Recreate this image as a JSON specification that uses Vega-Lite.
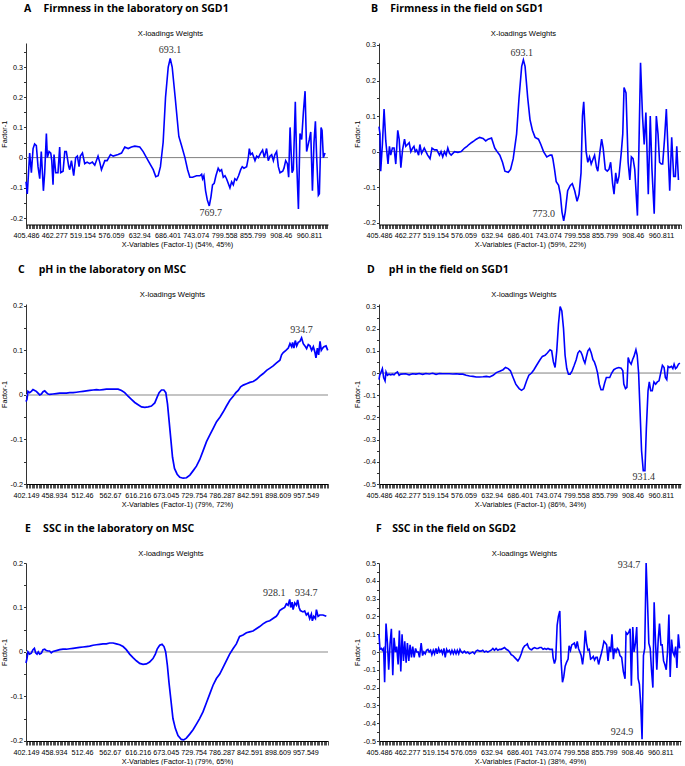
{
"$schema": "https://vega.github.io/schema/vega-lite/v6.json",
"background": "white",
"padding": {"left": 0, "top": 4, "right": 0, "bottom": 0},
"config": {
 "view": {"stroke": null},
 "title": {"anchor": "start", "frame": "group", "font": "Open Sans", "fontSize": 10.5, "fontWeight": "bold", "color": "#000", "offset": 15},
 "axis": {"grid": false, "labelFont": "Liberation Sans", "titleFont": "Liberation Sans", "titleFontWeight": "normal", "labelColor": "#000", "titleColor": "#000"},
 "axisBottom": {"tickSize": 4, "tickWidth": 0.7, "tickColor": "#000", "domainColor": "#000", "labelFontSize": 7.2, "labelPadding": 3, "labelFlush": false, "labelOverlap": false, "labelBound": false, "titleFontSize": 7.3, "titlePadding": 2},
 "axisTop": {"labels": false, "ticks": false, "domain": false, "titleFontSize": 7.6, "titlePadding": 5.2, "minExtent": 0, "maxExtent": 0},
 "axisLeft": {"tickSize": 2.5, "tickColor": "#333", "domainColor": "#333", "labelFontSize": 7.2, "labelPadding": 1, "minExtent": 15, "maxExtent": 15, "titlePadding": 3, "titleFontSize": 7.2, "labelOverlap": false, "labelExpr": "abs(round(datum.value*20)) % 2 == 0 ? '' + datum.value : ''"}
},
"datasets": {
"A": [{"i":0,"v":-0.08},{"i":0.9,"v":-0.12},{"i":2.6,"v":0.015},{"i":3.8,"v":-0.05},{"i":5.0,"v":0.03},{"i":6.1,"v":0.045},{"i":7.3,"v":0.04},{"i":8.5,"v":-0.03},{"i":9.7,"v":-0.07},{"i":10.8,"v":0.02},{"i":12.3,"v":-0.11},{"i":13.2,"v":-0.05},{"i":14.4,"v":0.08},{"i":15.1,"v":0.0},{"i":16.3,"v":0.02},{"i":17.5,"v":0.015},{"i":18.2,"v":-0.01},{"i":19.1,"v":-0.09},{"i":19.8,"v":0.01},{"i":21.0,"v":-0.05},{"i":22.6,"v":-0.05},{"i":23.8,"v":0.035},{"i":24.5,"v":-0.05},{"i":26.2,"v":-0.045},{"i":27.4,"v":0.02},{"i":28.5,"v":0.02},{"i":30.2,"v":-0.03},{"i":30.9,"v":-0.04},{"i":32.1,"v":-0.01},{"i":33.7,"v":-0.06},{"i":35.1,"v":0.0},{"i":36.3,"v":0.005},{"i":37.5,"v":-0.03},{"i":38.4,"v":0.005},{"i":39.9,"v":0.015},{"i":41.5,"v":-0.02},{"i":43.2,"v":-0.015},{"i":45.0,"v":-0.02},{"i":46.9,"v":-0.015},{"i":48.6,"v":-0.025},{"i":50.9,"v":0.005},{"i":52.1,"v":-0.015},{"i":53.3,"v":-0.04},{"i":55.7,"v":-0.01},{"i":57.3,"v":-0.01},{"i":59.7,"v":0.01},{"i":61.6,"v":0.005},{"i":65.1,"v":0.01},{"i":67.5,"v":0.015},{"i":69.8,"v":0.035},{"i":72.2,"v":0.03},{"i":74.5,"v":0.035},{"i":76.9,"v":0.038},{"i":80.4,"v":0.035},{"i":82.8,"v":0.02},{"i":86.3,"v":-0.01},{"i":89.9,"v":-0.04},{"i":91.7,"v":-0.063},{"i":93.4,"v":-0.06},{"i":95.0,"v":-0.03},{"i":96.9,"v":0.05},{"i":98.6,"v":0.2},{"i":100.5,"v":0.3},{"i":101.9,"v":0.328},{"i":103.3,"v":0.3},{"i":105.4,"v":0.2},{"i":108.0,"v":0.07},{"i":109.9,"v":0.04},{"i":112.3,"v":0.0},{"i":114.2,"v":-0.04},{"i":115.8,"v":-0.065},{"i":117.7,"v":-0.065},{"i":120.5,"v":-0.06},{"i":122.9,"v":-0.06},{"i":124.1,"v":-0.055},{"i":124.8,"v":-0.07},{"i":125.7,"v":-0.06},{"i":126.9,"v":-0.11},{"i":128.1,"v":-0.14},{"i":129.5,"v":-0.16},{"i":130.7,"v":-0.13},{"i":131.8,"v":-0.09},{"i":133.0,"v":-0.085},{"i":134.2,"v":-0.06},{"i":135.8,"v":-0.035},{"i":137.0,"v":-0.045},{"i":138.2,"v":-0.04},{"i":139.4,"v":-0.065},{"i":140.6,"v":-0.06},{"i":141.7,"v":-0.07},{"i":144.1,"v":-0.1},{"i":145.3,"v":-0.08},{"i":146.5,"v":-0.09},{"i":147.6,"v":-0.07},{"i":148.8,"v":-0.075},{"i":150.2,"v":-0.06},{"i":151.7,"v":-0.04},{"i":152.8,"v":-0.03},{"i":154.0,"v":-0.035},{"i":155.9,"v":-0.03},{"i":157.1,"v":0.0},{"i":157.8,"v":0.03},{"i":158.7,"v":0.01},{"i":159.9,"v":0.015},{"i":161.8,"v":-0.01},{"i":163.0,"v":0.005},{"i":164.2,"v":0.0},{"i":165.8,"v":0.015},{"i":167.2,"v":0.025},{"i":168.4,"v":0.0},{"i":170.0,"v":0.03},{"i":171.2,"v":-0.01},{"i":172.4,"v":0.005},{"i":173.6,"v":0.01},{"i":174.8,"v":-0.01},{"i":175.9,"v":0.01},{"i":177.1,"v":0.02},{"i":178.3,"v":-0.03},{"i":179.5,"v":-0.05},{"i":181.4,"v":-0.045},{"i":182.3,"v":-0.035},{"i":183.5,"v":-0.01},{"i":184.7,"v":-0.02},{"i":185.6,"v":-0.065},{"i":186.6,"v":0.1},{"i":188.0,"v":-0.05},{"i":188.9,"v":-0.04},{"i":190.3,"v":0.185},{"i":191.3,"v":-0.02},{"i":192.5,"v":-0.17},{"i":193.6,"v":0.08},{"i":194.8,"v":0.06},{"i":196.0,"v":0.15},{"i":197.2,"v":0.22},{"i":198.3,"v":0.02},{"i":200.2,"v":0.06},{"i":201.2,"v":0.085},{"i":202.4,"v":-0.11},{"i":203.5,"v":0.05},{"i":204.5,"v":0.12},{"i":205.4,"v":0.0},{"i":206.6,"v":-0.125},{"i":207.3,"v":-0.12},{"i":208.5,"v":0.1},{"i":209.2,"v":0.09},{"i":210.1,"v":0.0},{"i":211.3,"v":0.015}],
"B": [{"i":0,"v":0.07},{"i":0.7,"v":0.05},{"i":1.2,"v":-0.055},{"i":2.4,"v":0.02},{"i":3.6,"v":0.12},{"i":4.8,"v":0.03},{"i":6.4,"v":-0.035},{"i":7.4,"v":0.015},{"i":8.3,"v":-0.01},{"i":9.5,"v":0.01},{"i":10.7,"v":0.01},{"i":11.9,"v":-0.035},{"i":13.3,"v":0.06},{"i":14.3,"v":0.035},{"i":15.5,"v":-0.045},{"i":16.7,"v":0.005},{"i":18.1,"v":0.035},{"i":19.0,"v":0.015},{"i":20.2,"v":0.02},{"i":21.4,"v":0.025},{"i":22.6,"v":0.0},{"i":23.8,"v":0.01},{"i":24.8,"v":0.015},{"i":25.7,"v":0.0},{"i":26.7,"v":0.005},{"i":28.1,"v":-0.01},{"i":29.0,"v":0.02},{"i":30.2,"v":-0.005},{"i":32.1,"v":0.01},{"i":33.3,"v":0.0},{"i":34.5,"v":-0.01},{"i":36.2,"v":-0.02},{"i":37.6,"v":0.01},{"i":39.3,"v":0.005},{"i":41.0,"v":0.005},{"i":42.9,"v":-0.01},{"i":44.0,"v":0.0},{"i":45.2,"v":-0.015},{"i":46.4,"v":0.0},{"i":47.6,"v":-0.01},{"i":48.8,"v":0.01},{"i":50.0,"v":-0.005},{"i":51.2,"v":-0.01},{"i":53.6,"v":0.0},{"i":56.0,"v":-0.002},{"i":58.3,"v":0.0},{"i":60.7,"v":0.01},{"i":62.4,"v":0.015},{"i":63.8,"v":0.02},{"i":65.5,"v":0.025},{"i":67.4,"v":0.03},{"i":69.0,"v":0.035},{"i":71.4,"v":0.04},{"i":73.8,"v":0.037},{"i":75.7,"v":0.03},{"i":77.4,"v":0.035},{"i":79.8,"v":0.038},{"i":82.1,"v":0.01},{"i":83.8,"v":0.0},{"i":85.7,"v":-0.01},{"i":87.6,"v":-0.03},{"i":89.3,"v":-0.055},{"i":91.7,"v":-0.058},{"i":93.3,"v":-0.05},{"i":95.2,"v":-0.02},{"i":97.6,"v":0.05},{"i":99.3,"v":0.15},{"i":101.2,"v":0.24},{"i":102.4,"v":0.258},{"i":103.6,"v":0.24},{"i":105.5,"v":0.15},{"i":107.1,"v":0.09},{"i":108.8,"v":0.06},{"i":110.7,"v":0.04},{"i":113.1,"v":0.035},{"i":114.8,"v":0.02},{"i":116.7,"v":0.0},{"i":119.0,"v":-0.015},{"i":121.4,"v":-0.01},{"i":122.6,"v":-0.01},{"i":123.3,"v":-0.02},{"i":124.5,"v":-0.05},{"i":125.7,"v":-0.085},{"i":127.4,"v":-0.095},{"i":128.6,"v":-0.12},{"i":129.8,"v":-0.17},{"i":131.0,"v":-0.195},{"i":132.1,"v":-0.17},{"i":133.8,"v":-0.11},{"i":135.7,"v":-0.095},{"i":137.1,"v":-0.09},{"i":138.8,"v":-0.11},{"i":140.5,"v":-0.14},{"i":141.9,"v":-0.12},{"i":143.3,"v":-0.06},{"i":144.3,"v":0.1},{"i":145.2,"v":0.14},{"i":146.9,"v":0.0},{"i":148.1,"v":-0.03},{"i":149.3,"v":-0.015},{"i":150.5,"v":-0.035},{"i":151.9,"v":-0.02},{"i":152.9,"v":-0.01},{"i":154.3,"v":-0.045},{"i":155.2,"v":-0.055},{"i":156.7,"v":0.0},{"i":157.9,"v":0.035},{"i":159.0,"v":0.01},{"i":160.5,"v":-0.05},{"i":161.9,"v":-0.055},{"i":163.1,"v":-0.05},{"i":164.3,"v":-0.03},{"i":165.7,"v":-0.09},{"i":166.7,"v":-0.12},{"i":167.9,"v":-0.06},{"i":169.0,"v":-0.09},{"i":170.2,"v":-0.07},{"i":171.9,"v":0.0},{"i":172.9,"v":0.05},{"i":173.8,"v":0.18},{"i":175.2,"v":0.165},{"i":176.7,"v":-0.03},{"i":177.9,"v":-0.08},{"i":179.0,"v":-0.015},{"i":180.2,"v":-0.02},{"i":181.4,"v":-0.05},{"i":183.3,"v":-0.18},{"i":184.3,"v":0.0},{"i":185.5,"v":0.25},{"i":186.9,"v":0.1},{"i":188.1,"v":0.02},{"i":189.3,"v":0.11},{"i":191.0,"v":-0.12},{"i":192.4,"v":0.1},{"i":193.6,"v":-0.05},{"i":195.2,"v":-0.175},{"i":196.7,"v":0.1},{"i":197.9,"v":0.05},{"i":199.0,"v":-0.03},{"i":200.2,"v":-0.035},{"i":201.2,"v":-0.035},{"i":202.6,"v":0.04},{"i":203.8,"v":0.12},{"i":206.2,"v":-0.11},{"i":207.6,"v":0.04},{"i":209.0,"v":-0.07},{"i":210.2,"v":-0.07},{"i":211.2,"v":0.015},{"i":212.4,"v":-0.08}],
"C": [{"i":0,"v":-0.015},{"i":0.7,"v":-0.01},{"i":1.4,"v":0.008},{"i":2.6,"v":0.005},{"i":3.8,"v":0.008},{"i":5.0,"v":0.012},{"i":6.2,"v":0.01},{"i":7.4,"v":0.008},{"i":8.6,"v":0.004},{"i":9.8,"v":0.0},{"i":11.0,"v":0.002},{"i":12.2,"v":0.007},{"i":13.4,"v":0.009},{"i":14.6,"v":0.005},{"i":15.8,"v":0.002},{"i":16.9,"v":0.001},{"i":19.3,"v":0.002},{"i":21.7,"v":0.003},{"i":24.1,"v":0.004},{"i":26.5,"v":0.004},{"i":28.9,"v":0.004},{"i":31.3,"v":0.005},{"i":33.7,"v":0.005},{"i":36.0,"v":0.006},{"i":38.4,"v":0.007},{"i":40.8,"v":0.008},{"i":43.2,"v":0.009},{"i":45.6,"v":0.01},{"i":48.0,"v":0.011},{"i":50.4,"v":0.012},{"i":52.7,"v":0.011},{"i":55.1,"v":0.012},{"i":57.5,"v":0.013},{"i":59.9,"v":0.013},{"i":62.3,"v":0.013},{"i":65.9,"v":0.013},{"i":68.3,"v":0.01},{"i":70.6,"v":0.005},{"i":73.0,"v":-0.003},{"i":75.4,"v":-0.01},{"i":77.8,"v":-0.017},{"i":80.2,"v":-0.022},{"i":82.6,"v":-0.027},{"i":85.0,"v":-0.028},{"i":87.4,"v":-0.027},{"i":89.7,"v":-0.025},{"i":92.1,"v":-0.018},{"i":93.8,"v":-0.005},{"i":95.2,"v":0.005},{"i":96.9,"v":0.011},{"i":98.6,"v":0.011},{"i":100.0,"v":0.005},{"i":101.2,"v":-0.02},{"i":102.4,"v":-0.06},{"i":103.6,"v":-0.1},{"i":104.8,"v":-0.14},{"i":106.2,"v":-0.165},{"i":108.1,"v":-0.178},{"i":110.0,"v":-0.185},{"i":112.4,"v":-0.187},{"i":114.8,"v":-0.186},{"i":117.2,"v":-0.18},{"i":119.6,"v":-0.17},{"i":121.9,"v":-0.16},{"i":124.3,"v":-0.145},{"i":126.7,"v":-0.125},{"i":129.1,"v":-0.105},{"i":131.5,"v":-0.09},{"i":133.9,"v":-0.075},{"i":136.3,"v":-0.06},{"i":138.7,"v":-0.05},{"i":141.1,"v":-0.038},{"i":143.4,"v":-0.025},{"i":145.8,"v":-0.012},{"i":148.2,"v":-0.003},{"i":150.1,"v":0.005},{"i":151.8,"v":0.01},{"i":153.5,"v":0.018},{"i":155.4,"v":0.022},{"i":157.8,"v":0.025},{"i":160.1,"v":0.028},{"i":162.5,"v":0.03},{"i":164.9,"v":0.035},{"i":167.3,"v":0.042},{"i":169.7,"v":0.048},{"i":172.1,"v":0.055},{"i":174.5,"v":0.06},{"i":176.8,"v":0.065},{"i":179.2,"v":0.072},{"i":181.6,"v":0.078},{"i":182.8,"v":0.09},{"i":184.0,"v":0.095},{"i":185.9,"v":0.1},{"i":187.6,"v":0.105},{"i":188.8,"v":0.115},{"i":190.0,"v":0.108},{"i":190.7,"v":0.118},{"i":191.6,"v":0.105},{"i":192.6,"v":0.122},{"i":193.6,"v":0.11},{"i":194.7,"v":0.118},{"i":195.9,"v":0.12},{"i":197.1,"v":0.128},{"i":198.3,"v":0.115},{"i":199.5,"v":0.11},{"i":200.7,"v":0.104},{"i":201.9,"v":0.113},{"i":203.1,"v":0.11},{"i":204.3,"v":0.1},{"i":205.5,"v":0.108},{"i":206.7,"v":0.095},{"i":207.4,"v":0.083},{"i":208.4,"v":0.105},{"i":209.3,"v":0.09},{"i":210.3,"v":0.12},{"i":211.2,"v":0.1},{"i":212.2,"v":0.105},{"i":213.1,"v":0.108},{"i":214.6,"v":0.11},{"i":215.8,"v":0.1}],
"D": [{"i":0,"v":-0.03},{"i":0.5,"v":-0.01},{"i":1.2,"v":0.0},{"i":2.4,"v":0.02},{"i":3.3,"v":-0.02},{"i":4.3,"v":-0.035},{"i":5.0,"v":0.005},{"i":6.0,"v":-0.01},{"i":7.1,"v":-0.005},{"i":8.3,"v":-0.008},{"i":9.5,"v":-0.005},{"i":10.7,"v":-0.008},{"i":11.9,"v":0.0},{"i":13.1,"v":0.005},{"i":14.3,"v":-0.01},{"i":15.5,"v":-0.005},{"i":19.0,"v":-0.003},{"i":21.4,"v":-0.008},{"i":23.8,"v":-0.003},{"i":26.2,"v":-0.005},{"i":28.6,"v":-0.002},{"i":31.0,"v":-0.006},{"i":33.3,"v":-0.002},{"i":35.7,"v":-0.004},{"i":38.1,"v":-0.001},{"i":40.5,"v":-0.006},{"i":42.9,"v":-0.002},{"i":45.2,"v":-0.003},{"i":47.6,"v":-0.003},{"i":50.0,"v":-0.003},{"i":52.4,"v":-0.004},{"i":54.8,"v":-0.003},{"i":57.1,"v":-0.005},{"i":59.5,"v":-0.005},{"i":61.9,"v":-0.01},{"i":64.3,"v":-0.013},{"i":66.7,"v":-0.015},{"i":69.0,"v":-0.018},{"i":71.4,"v":-0.018},{"i":73.8,"v":-0.017},{"i":76.2,"v":-0.015},{"i":78.6,"v":-0.018},{"i":81.0,"v":-0.01},{"i":83.3,"v":0.002},{"i":85.7,"v":0.008},{"i":88.1,"v":0.015},{"i":89.8,"v":0.025},{"i":91.7,"v":0.02},{"i":93.3,"v":0.01},{"i":95.2,"v":-0.02},{"i":97.1,"v":-0.05},{"i":99.5,"v":-0.07},{"i":101.2,"v":-0.078},{"i":102.9,"v":-0.07},{"i":104.8,"v":-0.035},{"i":106.4,"v":-0.01},{"i":108.3,"v":0.0},{"i":110.0,"v":0.015},{"i":111.9,"v":0.035},{"i":114.3,"v":0.06},{"i":116.0,"v":0.075},{"i":117.9,"v":0.08},{"i":119.5,"v":0.09},{"i":121.4,"v":0.105},{"i":122.6,"v":0.1},{"i":123.8,"v":0.05},{"i":125.0,"v":0.025},{"i":126.2,"v":0.1},{"i":127.4,"v":0.22},{"i":128.6,"v":0.3},{"i":129.8,"v":0.28},{"i":131.0,"v":0.2},{"i":132.1,"v":0.08},{"i":133.3,"v":0.02},{"i":134.5,"v":-0.005},{"i":135.7,"v":-0.005},{"i":137.1,"v":0.01},{"i":138.6,"v":0.035},{"i":140.0,"v":0.06},{"i":141.2,"v":0.09},{"i":142.4,"v":0.1},{"i":143.3,"v":0.095},{"i":144.3,"v":0.08},{"i":145.2,"v":0.06},{"i":146.2,"v":0.045},{"i":147.1,"v":0.07},{"i":148.3,"v":0.1},{"i":149.5,"v":0.11},{"i":150.7,"v":0.09},{"i":151.9,"v":0.06},{"i":152.9,"v":0.05},{"i":154.0,"v":0.03},{"i":155.2,"v":0.0},{"i":156.4,"v":-0.05},{"i":157.6,"v":-0.075},{"i":159.0,"v":-0.075},{"i":160.2,"v":-0.045},{"i":161.4,"v":-0.02},{"i":162.6,"v":-0.02},{"i":163.8,"v":-0.02},{"i":165.2,"v":0.0},{"i":166.7,"v":0.015},{"i":168.6,"v":0.022},{"i":170.2,"v":0.025},{"i":171.9,"v":0.022},{"i":173.1,"v":0.01},{"i":173.8,"v":-0.05},{"i":175.0,"v":-0.07},{"i":176.0,"v":-0.065},{"i":176.9,"v":0.07},{"i":177.9,"v":0.05},{"i":179.0,"v":0.04},{"i":180.0,"v":0.06},{"i":181.0,"v":0.075},{"i":182.4,"v":0.105},{"i":183.3,"v":0.08},{"i":184.3,"v":0.0},{"i":185.2,"v":-0.15},{"i":186.4,"v":-0.35},{"i":187.6,"v":-0.44},{"i":188.8,"v":-0.44},{"i":189.8,"v":-0.25},{"i":191.0,"v":-0.08},{"i":191.9,"v":-0.04},{"i":192.9,"v":-0.08},{"i":194.0,"v":-0.08},{"i":195.2,"v":-0.04},{"i":196.4,"v":-0.05},{"i":197.6,"v":-0.04},{"i":198.8,"v":-0.035},{"i":200.0,"v":0.0},{"i":201.2,"v":0.035},{"i":202.4,"v":0.025},{"i":203.3,"v":-0.02},{"i":204.3,"v":-0.03},{"i":205.2,"v":0.03},{"i":206.4,"v":0.025},{"i":207.6,"v":0.03},{"i":208.6,"v":0.02},{"i":209.5,"v":0.04},{"i":210.5,"v":0.02},{"i":211.4,"v":0.025},{"i":212.6,"v":0.04},{"i":213.6,"v":0.045}],
"E": [{"i":0,"v":-0.025},{"i":0.7,"v":-0.015},{"i":1.4,"v":0.0},{"i":2.6,"v":-0.005},{"i":3.8,"v":-0.003},{"i":5.0,"v":0.005},{"i":6.0,"v":0.008},{"i":6.9,"v":-0.002},{"i":7.9,"v":-0.005},{"i":8.8,"v":0.0},{"i":9.8,"v":-0.005},{"i":11.0,"v":-0.003},{"i":12.2,"v":0.005},{"i":13.4,"v":0.006},{"i":14.6,"v":0.003},{"i":15.8,"v":0.002},{"i":16.9,"v":0.002},{"i":18.1,"v":-0.002},{"i":19.3,"v":0.001},{"i":21.7,"v":0.003},{"i":24.1,"v":0.005},{"i":26.5,"v":0.006},{"i":28.9,"v":0.006},{"i":31.3,"v":0.007},{"i":33.7,"v":0.008},{"i":36.0,"v":0.009},{"i":38.4,"v":0.01},{"i":40.8,"v":0.011},{"i":43.2,"v":0.012},{"i":45.6,"v":0.013},{"i":48.0,"v":0.015},{"i":50.4,"v":0.016},{"i":52.7,"v":0.017},{"i":55.1,"v":0.018},{"i":57.5,"v":0.018},{"i":59.9,"v":0.02},{"i":62.3,"v":0.02},{"i":64.7,"v":0.018},{"i":67.1,"v":0.016},{"i":69.5,"v":0.012},{"i":71.8,"v":0.005},{"i":74.2,"v":-0.005},{"i":76.6,"v":-0.013},{"i":79.0,"v":-0.02},{"i":81.4,"v":-0.026},{"i":83.8,"v":-0.028},{"i":86.2,"v":-0.027},{"i":88.5,"v":-0.023},{"i":90.9,"v":-0.015},{"i":92.6,"v":-0.005},{"i":94.0,"v":0.007},{"i":95.7,"v":0.015},{"i":97.4,"v":0.017},{"i":98.8,"v":0.012},{"i":100.0,"v":0.0},{"i":101.2,"v":-0.03},{"i":102.4,"v":-0.07},{"i":103.8,"v":-0.11},{"i":105.2,"v":-0.15},{"i":106.9,"v":-0.172},{"i":108.8,"v":-0.188},{"i":111.2,"v":-0.197},{"i":112.9,"v":-0.198},{"i":114.8,"v":-0.194},{"i":117.2,"v":-0.185},{"i":119.6,"v":-0.175},{"i":121.9,"v":-0.163},{"i":124.3,"v":-0.15},{"i":126.7,"v":-0.135},{"i":129.1,"v":-0.115},{"i":131.5,"v":-0.095},{"i":133.9,"v":-0.075},{"i":136.3,"v":-0.06},{"i":138.7,"v":-0.05},{"i":141.1,"v":-0.035},{"i":143.4,"v":-0.02},{"i":145.8,"v":-0.005},{"i":148.2,"v":0.007},{"i":150.6,"v":0.018},{"i":152.9,"v":0.035},{"i":155.4,"v":0.038},{"i":157.8,"v":0.043},{"i":160.1,"v":0.045},{"i":162.5,"v":0.047},{"i":164.9,"v":0.052},{"i":167.3,"v":0.057},{"i":169.7,"v":0.063},{"i":172.1,"v":0.068},{"i":174.5,"v":0.07},{"i":176.8,"v":0.075},{"i":179.2,"v":0.08},{"i":180.4,"v":0.085},{"i":181.6,"v":0.093},{"i":183.5,"v":0.097},{"i":185.2,"v":0.1},{"i":186.4,"v":0.108},{"i":187.6,"v":0.105},{"i":188.8,"v":0.118},{"i":189.5,"v":0.1},{"i":190.5,"v":0.112},{"i":191.2,"v":0.095},{"i":192.4,"v":0.11},{"i":193.6,"v":0.105},{"i":194.5,"v":0.117},{"i":195.5,"v":0.1},{"i":196.4,"v":0.093},{"i":198.3,"v":0.09},{"i":199.5,"v":0.092},{"i":200.7,"v":0.083},{"i":201.9,"v":0.087},{"i":203.1,"v":0.075},{"i":204.3,"v":0.085},{"i":205.0,"v":0.07},{"i":206.0,"v":0.08},{"i":207.2,"v":0.075},{"i":207.9,"v":0.095},{"i":209.1,"v":0.08},{"i":210.3,"v":0.083},{"i":212.6,"v":0.083},{"i":215.0,"v":0.08}],
"F": [{"i":0,"v":0.1},{"i":0.7,"v":0.015},{"i":1.7,"v":0.02},{"i":2.4,"v":0.01},{"i":3.3,"v":0.02},{"i":4.0,"v":-0.17},{"i":5.0,"v":0.16},{"i":6.0,"v":0.05},{"i":6.9,"v":-0.1},{"i":7.9,"v":0.05},{"i":8.8,"v":0.13},{"i":9.8,"v":-0.13},{"i":10.7,"v":0.08},{"i":11.7,"v":0.0},{"i":12.6,"v":0.03},{"i":13.6,"v":-0.07},{"i":14.5,"v":0.12},{"i":15.5,"v":-0.11},{"i":16.4,"v":0.1},{"i":17.4,"v":-0.05},{"i":18.3,"v":0.06},{"i":19.3,"v":-0.06},{"i":20.2,"v":0.05},{"i":21.2,"v":-0.05},{"i":22.1,"v":0.04},{"i":23.1,"v":-0.03},{"i":24.0,"v":0.03},{"i":25.0,"v":-0.03},{"i":26.0,"v":0.02},{"i":26.9,"v":0.0},{"i":27.9,"v":0.0},{"i":28.8,"v":-0.03},{"i":30.0,"v":0.05},{"i":31.0,"v":-0.02},{"i":31.9,"v":0.0},{"i":32.9,"v":-0.01},{"i":33.8,"v":0.01},{"i":34.8,"v":0.015},{"i":35.7,"v":0.0},{"i":36.7,"v":0.01},{"i":37.6,"v":-0.015},{"i":38.6,"v":0.01},{"i":39.5,"v":-0.01},{"i":40.5,"v":0.02},{"i":41.4,"v":-0.01},{"i":42.4,"v":0.02},{"i":43.3,"v":0.0},{"i":44.3,"v":0.01},{"i":45.2,"v":-0.01},{"i":46.2,"v":0.02},{"i":47.1,"v":-0.03},{"i":48.1,"v":0.015},{"i":49.0,"v":0.0},{"i":50.0,"v":0.01},{"i":51.0,"v":-0.01},{"i":51.9,"v":0.01},{"i":52.9,"v":-0.01},{"i":53.8,"v":0.01},{"i":54.8,"v":-0.01},{"i":55.7,"v":0.01},{"i":56.7,"v":-0.01},{"i":57.6,"v":0.015},{"i":58.6,"v":0.0},{"i":59.5,"v":-0.005},{"i":60.7,"v":0.005},{"i":61.9,"v":-0.005},{"i":63.1,"v":0.0},{"i":64.3,"v":-0.01},{"i":65.5,"v":-0.005},{"i":66.7,"v":0.0},{"i":67.9,"v":-0.01},{"i":69.0,"v":0.005},{"i":70.2,"v":0.01},{"i":71.4,"v":0.005},{"i":72.6,"v":0.005},{"i":73.8,"v":0.01},{"i":75.0,"v":0.0},{"i":76.2,"v":0.005},{"i":77.4,"v":0.0},{"i":78.6,"v":0.005},{"i":79.8,"v":0.01},{"i":81.0,"v":0.02},{"i":82.1,"v":0.01},{"i":83.3,"v":0.02},{"i":84.5,"v":0.01},{"i":85.7,"v":0.015},{"i":86.9,"v":0.015},{"i":88.1,"v":0.02},{"i":89.3,"v":0.025},{"i":90.5,"v":0.015},{"i":91.7,"v":0.01},{"i":92.9,"v":0.0},{"i":94.0,"v":-0.015},{"i":95.2,"v":-0.02},{"i":96.4,"v":-0.03},{"i":97.6,"v":-0.04},{"i":98.8,"v":-0.05},{"i":100.0,"v":-0.035},{"i":101.2,"v":-0.01},{"i":102.4,"v":0.02},{"i":103.6,"v":0.035},{"i":104.8,"v":0.04},{"i":105.5,"v":0.045},{"i":106.4,"v":0.025},{"i":107.6,"v":0.015},{"i":108.6,"v":0.012},{"i":109.5,"v":0.02},{"i":110.7,"v":0.025},{"i":111.9,"v":0.02},{"i":113.1,"v":0.02},{"i":114.3,"v":0.025},{"i":115.5,"v":0.025},{"i":116.7,"v":0.015},{"i":117.9,"v":0.02},{"i":119.0,"v":0.015},{"i":120.2,"v":0.02},{"i":121.4,"v":0.015},{"i":122.6,"v":0.015},{"i":123.3,"v":0.015},{"i":123.8,"v":-0.03},{"i":124.8,"v":-0.065},{"i":125.7,"v":-0.04},{"i":126.7,"v":0.15},{"i":127.6,"v":0.2},{"i":128.6,"v":0.23},{"i":129.5,"v":-0.05},{"i":130.5,"v":-0.17},{"i":131.4,"v":-0.14},{"i":132.4,"v":-0.08},{"i":133.3,"v":-0.06},{"i":134.5,"v":-0.04},{"i":135.2,"v":0.035},{"i":136.2,"v":0.01},{"i":137.1,"v":0.04},{"i":138.1,"v":0.045},{"i":139.0,"v":0.05},{"i":140.0,"v":0.02},{"i":141.0,"v":0.06},{"i":141.9,"v":0.02},{"i":142.9,"v":0.0},{"i":143.8,"v":-0.02},{"i":144.8,"v":-0.07},{"i":145.7,"v":-0.01},{"i":146.7,"v":0.12},{"i":147.6,"v":0.05},{"i":148.6,"v":0.01},{"i":149.5,"v":0.015},{"i":150.5,"v":-0.04},{"i":151.4,"v":-0.035},{"i":152.4,"v":-0.025},{"i":153.3,"v":-0.045},{"i":154.3,"v":-0.03},{"i":155.2,"v":-0.03},{"i":156.2,"v":-0.07},{"i":157.1,"v":-0.04},{"i":158.1,"v":-0.01},{"i":159.0,"v":0.02},{"i":160.0,"v":0.06},{"i":161.0,"v":0.05},{"i":161.9,"v":0.04},{"i":162.9,"v":-0.05},{"i":163.8,"v":0.03},{"i":164.8,"v":0.0},{"i":165.7,"v":0.1},{"i":166.7,"v":-0.04},{"i":167.6,"v":0.02},{"i":168.6,"v":0.0},{"i":169.5,"v":0.02},{"i":170.5,"v":0.01},{"i":171.4,"v":-0.02},{"i":172.6,"v":-0.03},{"i":173.8,"v":-0.11},{"i":175.0,"v":-0.15},{"i":175.7,"v":0.11},{"i":176.7,"v":0.1},{"i":177.6,"v":0.11},{"i":178.6,"v":0.13},{"i":179.5,"v":-0.19},{"i":180.5,"v":0.14},{"i":181.4,"v":0.0},{"i":182.4,"v":0.05},{"i":183.3,"v":0.14},{"i":184.3,"v":-0.15},{"i":185.2,"v":-0.18},{"i":186.2,"v":-0.3},{"i":187.1,"v":-0.49},{"i":188.1,"v":-0.02},{"i":189.0,"v":0.02},{"i":190.0,"v":0.5},{"i":191.0,"v":0.28},{"i":191.9,"v":0.05},{"i":192.9,"v":0.02},{"i":193.8,"v":-0.1},{"i":194.8,"v":-0.2},{"i":195.7,"v":0.28},{"i":196.7,"v":0.05},{"i":197.6,"v":-0.1},{"i":198.6,"v":0.07},{"i":199.5,"v":0.16},{"i":200.5,"v":0.04},{"i":201.4,"v":0.04},{"i":202.4,"v":-0.05},{"i":203.3,"v":-0.07},{"i":204.3,"v":-0.1},{"i":205.2,"v":0.0},{"i":206.2,"v":0.21},{"i":207.1,"v":-0.14},{"i":208.1,"v":0.07},{"i":209.0,"v":0.0},{"i":210.0,"v":-0.02},{"i":211.0,"v":0.03},{"i":211.9,"v":-0.09},{"i":212.9,"v":0.1},{"i":213.8,"v":0.02}]
},
"bounds": "flush",
"columns": 2,
"spacing": {"row": 79, "column": 51},
"concat": [
{
"width": 302, "height": 181.5,
"title": {"text": "A\u2003\u2009Firmness in the laboratory on SGD1", "dx": -2},
"resolve": {"axis": {"x": "independent"}},
"layer": [
 {"data": {"values": [{}]}, "mark": {"type": "rule", "color": "#808080", "strokeWidth": 1}, "encoding": {"y": {"datum": 0, "type": "quantitative", "scale": {"domain": [-0.2215, 0.3795], "nice": false, "zero": false}, "title": "Factor-1", "axis": {"labelOverlap": false, "values": [-0.2,-0.15,-0.1,-0.05,0,0.05,0.1,0.15,0.2,0.25,0.3,0.35]}}}},
 {"data": {"name": "A"}, "mark": {"type": "line", "color": "#0000ff", "strokeWidth": 1.6}, "encoding": {
  "x": {"field": "i", "type": "quantitative", "scale": {"domain": [0, 213.4], "nice": false, "zero": false}, "title": "X-Variables (Factor-1) (54%, 45%)", "axis": {"orient": "bottom", "tickCount": 213, "labelExpr": "datum.value % 20 == 0 && datum.value <= 200 ? ['405.486','462.277','519.154','576.059','632.94','686.401','743.074','799.558','855.799','908.46','960.811'][datum.value / 20] : ''"}},
  "y": {"field": "v", "type": "quantitative", "scale": {"domain": [-0.2215, 0.3795], "nice": false, "zero": false}, "title": "Factor-1", "axis": {"labelOverlap": false, "values": [-0.2,-0.15,-0.1,-0.05,0,0.05,0.1,0.15,0.2,0.25,0.3,0.35]}}}},
 {"data": {"values": [{"i": 101.7, "v": 0.356, "t": "693.1"}, {"i": 130.5, "v": -0.183, "t": "769.7"}]}, "mark": {"type": "text", "font": "Liberation Serif", "fontSize": 10, "color": "#333", "baseline": "middle"}, "encoding": {
  "x": {"field": "i", "type": "quantitative", "scale": {"domain": [0, 213.4], "nice": false, "zero": false}, "title": "X-loadings Weights", "axis": {"orient": "top", "titleX": 144}},
  "y": {"field": "v", "type": "quantitative", "scale": {"domain": [-0.2215, 0.3795], "nice": false, "zero": false}, "title": "Factor-1", "axis": {"labelOverlap": false, "values": [-0.2,-0.15,-0.1,-0.05,0,0.05,0.1,0.15,0.2,0.25,0.3,0.35]}},
  "text": {"field": "t"}}}
]
},
{
"width": 302, "height": 181.5,
"title": {"text": "B\u2003\u2009Firmness in the field on SGD1", "dx": -8},
"resolve": {"axis": {"x": "independent"}},
"layer": [
 {"data": {"values": [{}]}, "mark": {"type": "rule", "color": "#808080", "strokeWidth": 1}, "encoding": {"y": {"datum": 0, "type": "quantitative", "scale": {"domain": [-0.2051, 0.3056], "nice": false, "zero": false}, "title": "Factor-1", "axis": {"labelOverlap": false, "values": [-0.2,-0.15,-0.1,-0.05,0,0.05,0.1,0.15,0.2,0.25,0.3]}}}},
 {"data": {"name": "B"}, "mark": {"type": "line", "color": "#0000ff", "strokeWidth": 1.6}, "encoding": {
  "x": {"field": "i", "type": "quantitative", "scale": {"domain": [0, 214.2], "nice": false, "zero": false}, "title": "X-Variables (Factor-1) (59%, 22%)", "axis": {"orient": "bottom", "tickCount": 214, "labelExpr": "datum.value % 20 == 0 && datum.value <= 200 ? ['405.486','462.277','519.154','576.059','632.94','686.401','743.074','799.558','855.799','908.46','960.811'][datum.value / 20] : ''"}},
  "y": {"field": "v", "type": "quantitative", "scale": {"domain": [-0.2051, 0.3056], "nice": false, "zero": false}, "title": "Factor-1", "axis": {"labelOverlap": false, "values": [-0.2,-0.15,-0.1,-0.05,0,0.05,0.1,0.15,0.2,0.25,0.3]}}}},
 {"data": {"values": [{"i": 101.2, "v": 0.278, "t": "693.1"}, {"i": 116.9, "v": -0.175, "t": "773.0"}]}, "mark": {"type": "text", "font": "Liberation Serif", "fontSize": 10, "color": "#333", "baseline": "middle"}, "encoding": {
  "x": {"field": "i", "type": "quantitative", "scale": {"domain": [0, 214.2], "nice": false, "zero": false}, "title": "X-loadings Weights", "axis": {"orient": "top", "titleX": 144}},
  "y": {"field": "v", "type": "quantitative", "scale": {"domain": [-0.2051, 0.3056], "nice": false, "zero": false}, "title": "Factor-1", "axis": {"labelOverlap": false, "values": [-0.2,-0.15,-0.1,-0.05,0,0.05,0.1,0.15,0.2,0.25,0.3]}},
  "text": {"field": "t"}}}
]
},
{
"width": 302, "height": 180,
"title": {"text": "C\u2003\u2009\u2009pH in the laboratory on MSC", "dx": -8},
"resolve": {"axis": {"x": "independent"}},
"layer": [
 {"data": {"values": [{}]}, "mark": {"type": "rule", "color": "#c4c4c4", "strokeWidth": 2}, "encoding": {"y": {"datum": 0, "type": "quantitative", "scale": {"domain": [-0.2, 0.204], "nice": false, "zero": false}, "title": "Factor-1", "axis": {"labelOverlap": false, "values": [-0.2,-0.15,-0.1,-0.05,0,0.05,0.1,0.15,0.2]}}}},
 {"data": {"name": "C"}, "mark": {"type": "line", "color": "#0000ff", "strokeWidth": 1.7}, "encoding": {
  "x": {"field": "i", "type": "quantitative", "scale": {"domain": [0, 216], "nice": false, "zero": false}, "title": "X-Variables (Factor-1) (79%, 72%)", "axis": {"orient": "bottom", "tickCount": 216, "labelExpr": "datum.value % 20 == 0 && datum.value <= 200 ? ['402.149','458.934','512.46','562.67','616.216','673.045','729.754','786.287','842.591','898.609','957.549'][datum.value / 20] : ''"}},
  "y": {"field": "v", "type": "quantitative", "scale": {"domain": [-0.2, 0.204], "nice": false, "zero": false}, "title": "Factor-1", "axis": {"labelOverlap": false, "values": [-0.2,-0.15,-0.1,-0.05,0,0.05,0.1,0.15,0.2]}}}},
 {"data": {"values": [{"i": 197.1, "v": 0.145, "t": "934.7"}]}, "mark": {"type": "text", "font": "Liberation Serif", "fontSize": 10, "color": "#333", "baseline": "middle"}, "encoding": {
  "x": {"field": "i", "type": "quantitative", "scale": {"domain": [0, 216], "nice": false, "zero": false}, "title": "X-loadings Weights", "axis": {"orient": "top", "titleX": 146}},
  "y": {"field": "v", "type": "quantitative", "scale": {"domain": [-0.2, 0.204], "nice": false, "zero": false}, "title": "Factor-1", "axis": {"labelOverlap": false, "values": [-0.2,-0.15,-0.1,-0.05,0,0.05,0.1,0.15,0.2]}},
  "text": {"field": "t"}}}
]
},
{
"width": 302, "height": 180,
"title": {"text": "D\u2003\u2009\u2009pH in the field on SGD1", "dx": -12},
"resolve": {"axis": {"x": "independent"}},
"layer": [
 {"data": {"values": [{}]}, "mark": {"type": "rule", "color": "#808080", "strokeWidth": 1}, "encoding": {"y": {"datum": 0, "type": "quantitative", "scale": {"domain": [-0.5, 0.3111], "nice": false, "zero": false}, "title": "Factor-1", "axis": {"labelOverlap": false, "values": [-0.5,-0.45,-0.4,-0.35,-0.3,-0.25,-0.2,-0.15,-0.1,-0.05,0,0.05,0.1,0.15,0.2,0.25,0.3]}}}},
 {"data": {"name": "D"}, "mark": {"type": "line", "color": "#0000ff", "strokeWidth": 1.6}, "encoding": {
  "x": {"field": "i", "type": "quantitative", "scale": {"domain": [0, 214.4], "nice": false, "zero": false}, "title": "X-Variables (Factor-1) (86%, 34%)", "axis": {"orient": "bottom", "tickCount": 214, "labelExpr": "datum.value % 20 == 0 && datum.value <= 200 ? ['405.486','462.277','519.154','576.059','632.94','686.401','743.074','799.558','855.799','908.46','960.811'][datum.value / 20] : ''"}},
  "y": {"field": "v", "type": "quantitative", "scale": {"domain": [-0.5, 0.3111], "nice": false, "zero": false}, "title": "Factor-1", "axis": {"labelOverlap": false, "values": [-0.5,-0.45,-0.4,-0.35,-0.3,-0.25,-0.2,-0.15,-0.1,-0.05,0,0.05,0.1,0.15,0.2,0.25,0.3]}}}},
 {"data": {"values": [{"i": 187.9, "v": -0.47, "t": "931.4"}]}, "mark": {"type": "text", "font": "Liberation Serif", "fontSize": 10, "color": "#333", "baseline": "middle"}, "encoding": {
  "x": {"field": "i", "type": "quantitative", "scale": {"domain": [0, 214.4], "nice": false, "zero": false}, "title": "X-loadings Weights", "axis": {"orient": "top", "titleX": 144.5}},
  "y": {"field": "v", "type": "quantitative", "scale": {"domain": [-0.5, 0.3111], "nice": false, "zero": false}, "title": "Factor-1", "axis": {"labelOverlap": false, "values": [-0.5,-0.45,-0.4,-0.35,-0.3,-0.25,-0.2,-0.15,-0.1,-0.05,0,0.05,0.1,0.15,0.2,0.25,0.3]}},
  "text": {"field": "t"}}}
]
},
{
"width": 302, "height": 178,
"title": {"text": "E\u2003\u2009SSC in the laboratory on MSC", "dx": -1},
"resolve": {"axis": {"x": "independent"}},
"layer": [
 {"data": {"values": [{}]}, "mark": {"type": "rule", "color": "#c4c4c4", "strokeWidth": 2}, "encoding": {"y": {"datum": 0, "type": "quantitative", "scale": {"domain": [-0.2005, 0.2], "nice": false, "zero": false}, "title": "Factor-1", "axis": {"labelOverlap": false, "values": [-0.2,-0.15,-0.1,-0.05,0,0.05,0.1,0.15,0.2]}}}},
 {"data": {"name": "E"}, "mark": {"type": "line", "color": "#0000ff", "strokeWidth": 1.7}, "encoding": {
  "x": {"field": "i", "type": "quantitative", "scale": {"domain": [0, 216.2], "nice": false, "zero": false}, "title": "X-Variables (Factor-1) (79%, 65%)", "axis": {"orient": "bottom", "tickCount": 216, "labelExpr": "datum.value % 20 == 0 && datum.value <= 200 ? ['402.149','458.934','512.46','562.67','616.216','673.045','729.754','786.287','842.591','898.609','957.549'][datum.value / 20] : ''"}},
  "y": {"field": "v", "type": "quantitative", "scale": {"domain": [-0.2005, 0.2], "nice": false, "zero": false}, "title": "Factor-1", "axis": {"labelOverlap": false, "values": [-0.2,-0.15,-0.1,-0.05,0,0.05,0.1,0.15,0.2]}}}},
 {"data": {"values": [{"i": 177.8, "v": 0.132, "t": "928.1"}, {"i": 200.7, "v": 0.132, "t": "934.7"}]}, "mark": {"type": "text", "font": "Liberation Serif", "fontSize": 10, "color": "#333", "baseline": "middle"}, "encoding": {
  "x": {"field": "i", "type": "quantitative", "scale": {"domain": [0, 216.2], "nice": false, "zero": false}, "title": "X-loadings Weights", "axis": {"orient": "top", "titleX": 144.5}},
  "y": {"field": "v", "type": "quantitative", "scale": {"domain": [-0.2005, 0.2], "nice": false, "zero": false}, "title": "Factor-1", "axis": {"labelOverlap": false, "values": [-0.2,-0.15,-0.1,-0.05,0,0.05,0.1,0.15,0.2]}},
  "text": {"field": "t"}}}
]
},
{
"width": 302, "height": 178,
"title": {"text": "F\u2003SSC in the field on SGD2", "dx": -3},
"resolve": {"axis": {"x": "independent"}},
"layer": [
 {"data": {"values": [{}]}, "mark": {"type": "rule", "color": "#808080", "strokeWidth": 1}, "encoding": {"y": {"datum": 0, "type": "quantitative", "scale": {"domain": [-0.5, 0.5], "nice": false, "zero": false}, "title": "Factor-1", "axis": {"labelOverlap": false, "values": [-0.5,-0.45,-0.4,-0.35,-0.3,-0.25,-0.2,-0.15,-0.1,-0.05,0,0.05,0.1,0.15,0.2,0.25,0.3,0.35,0.4,0.45,0.5]}}}},
 {"data": {"name": "F"}, "mark": {"type": "line", "color": "#0000ff", "strokeWidth": 1.6}, "encoding": {
  "x": {"field": "i", "type": "quantitative", "scale": {"domain": [0, 214.8], "nice": false, "zero": false}, "title": "X-Variables (Factor-1) (38%, 49%)", "axis": {"orient": "bottom", "tickCount": 214, "labelExpr": "datum.value % 20 == 0 && datum.value <= 200 ? ['405.486','462.277','519.154','576.059','632.94','686.401','743.074','799.558','855.799','908.46','960.811'][datum.value / 20] : ''"}},
  "y": {"field": "v", "type": "quantitative", "scale": {"domain": [-0.5, 0.5], "nice": false, "zero": false}, "title": "Factor-1", "axis": {"labelOverlap": false, "values": [-0.5,-0.45,-0.4,-0.35,-0.3,-0.25,-0.2,-0.15,-0.1,-0.05,0,0.05,0.1,0.15,0.2,0.25,0.3,0.35,0.4,0.45,0.5]}}}},
 {"data": {"values": [{"i": 177.9, "v": 0.49, "t": "934.7"}, {"i": 172.9, "v": -0.448, "t": "924.9"}]}, "mark": {"type": "text", "font": "Liberation Serif", "fontSize": 10, "color": "#333", "baseline": "middle"}, "encoding": {
  "x": {"field": "i", "type": "quantitative", "scale": {"domain": [0, 214.8], "nice": false, "zero": false}, "title": "X-loadings Weights", "axis": {"orient": "top", "titleX": 145}},
  "y": {"field": "v", "type": "quantitative", "scale": {"domain": [-0.5, 0.5], "nice": false, "zero": false}, "title": "Factor-1", "axis": {"labelOverlap": false, "values": [-0.5,-0.45,-0.4,-0.35,-0.3,-0.25,-0.2,-0.15,-0.1,-0.05,0,0.05,0.1,0.15,0.2,0.25,0.3,0.35,0.4,0.45,0.5]}},
  "text": {"field": "t"}}}
]
}
]
}
